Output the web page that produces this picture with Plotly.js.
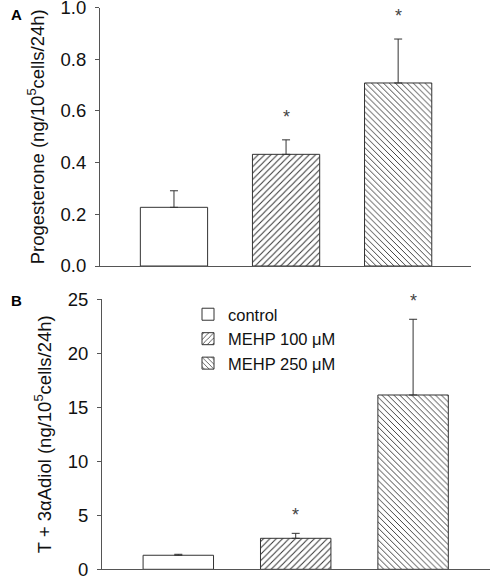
<!DOCTYPE html>
<html>
<head>
<meta charset="utf-8">
<script src="https://cdn.plot.ly/plotly-3.0.1.min.js"></script>
<style>html,body{margin:0;padding:0;background:#fff;}#chart{width:490px;height:576px;}</style>
</head>
<body>
<div id="chart"></div>
<script>
// ---- data ----
var groups = ["control", "MEHP 100 \u03bcM", "MEHP 250 \u03bcM"];
var progesteroneMean = [0.227, 0.432, 0.708];
var progesteroneSem  = [0.064, 0.056, 0.170];
var androgenMean = [1.30, 2.87, 16.14];
var androgenSem  = [0.09, 0.46, 7.01];
var significant = [false, true, true];
var progTicks = [0, 0.2, 0.4, 0.6, 0.8, 1.0];
var progTickText = ["0.0", "0.2", "0.4", "0.6", "0.8", "1.0"];
var andTicks = [0, 5, 10, 15, 20, 25];

// ---- styles ----
var ink = "#333";
var patterns = [
  {shape: "", fgcolor: ink, bgcolor: "#fff"},
  {shape: "/", fgcolor: ink, bgcolor: "#fff", size: 4.5, solidity: 0.22},
  {shape: "\\", fgcolor: ink, bgcolor: "#fff", size: 4.2, solidity: 0.22}
];
var font = "Liberation Sans, Arial, sans-serif";

var traces = [];
groups.forEach(function (g, i) {
  traces.push({
    type: "bar", x: [i], y: [progesteroneMean[i]], name: g, showlegend: false,
    xaxis: "x", yaxis: "y", width: 0.6,
    marker: {color: "#fff", line: {color: ink, width: 1}, pattern: patterns[i]},
    error_y: {type: "data", array: [progesteroneSem[i]], arrayminus: [0], symmetric: false,
              color: ink, thickness: 1, width: 4}
  });
  traces.push({
    type: "bar", x: [i], y: [androgenMean[i]], name: g, showlegend: true,
    xaxis: "x2", yaxis: "y2", width: 0.6,
    marker: {color: "#fff", line: {color: ink, width: 1}, pattern: patterns[i]},
    error_y: {type: "data", array: [androgenSem[i]], arrayminus: [0], symmetric: false,
              color: ink, thickness: 1, width: 4}
  });
});

var annotations = [];
groups.forEach(function (g, i) {
  if (!significant[i]) return;
  annotations.push({xref: "x", yref: "y", x: i, y: progesteroneMean[i] + progesteroneSem[i],
    text: "*", showarrow: false, yanchor: "middle", yshift: 23, font: {size: 18, color: "#444", family: font}});
  annotations.push({xref: "x2", yref: "y2", x: i, y: androgenMean[i] + androgenSem[i],
    text: "*", showarrow: false, yanchor: "middle", yshift: 18, font: {size: 18, color: "#444", family: font}});
});
annotations.push({xref: "paper", yref: "paper", x: 9/490, y: 1 - 14/576, text: "<b>A</b>",
  showarrow: false, xanchor: "left", yanchor: "middle", font: {size: 15, color: "#000", family: font}});
annotations.push({xref: "paper", yref: "paper", x: 9/490, y: 1 - 300/576, text: "<b>B</b>",
  showarrow: false, xanchor: "left", yanchor: "middle", font: {size: 15, color: "#000", family: font}});

var axisLine = {showline: true, linecolor: "#555", linewidth: 1, zeroline: false, showgrid: false};

var layout = {
  width: 490, height: 576,
  margin: {l: 0, r: 0, t: 0, b: 0},
  paper_bgcolor: "#fff", plot_bgcolor: "#fff",
  font: {family: font, color: "#111", size: 18},
  barmode: "overlay",
  showlegend: true,
  legend: {x: 188/490, y: 1 - 297/576, xanchor: "left", yanchor: "top",
           font: {size: 16.5, color: "#111"}, bgcolor: "rgba(0,0,0,0)", tracegroupgap: 0,
           itemwidth: 30},
  xaxis: Object.assign({}, axisLine, {domain: [100/490, 471/490], range: [-0.66, 2.65],
          showticklabels: false, ticks: "", anchor: "y", fixedrange: true}),
  yaxis: Object.assign({}, axisLine, {domain: [1 - 266/576, 1 - 7.5/576], range: [0, 1.0],
          tickvals: progTicks, ticktext: progTickText, ticks: "outside", ticklen: 4, tickcolor: "#555",
          anchor: "x", ticklabelstandoff: 5, ticklabeloverflow: "allow", tickfont: {size: 18.5, color: "#111"},
          title: {text: "Progesterone (ng/10<sup>5</sup>cells/24h)", font: {size: 18.5, color: "#111"}, standoff: 11}}),
  xaxis2: Object.assign({}, axisLine, {domain: [102/490, 1], range: [-0.65, 2.655],
          showticklabels: false, ticks: "", anchor: "y2", fixedrange: true}),
  yaxis2: Object.assign({}, axisLine, {domain: [1 - 569.3/576, 1 - 299.3/576], range: [0, 25],
          tickvals: andTicks, ticks: "outside", ticklen: 4, tickcolor: "#555",
          anchor: "x2", ticklabelstandoff: 5, ticklabeloverflow: "allow", tickfont: {size: 18.5, color: "#111"},
          title: {text: "T + 3\u03b1Adiol (ng/10<sup>5</sup>cells/24h)", font: {size: 18.5, color: "#111"}, standoff: 11}}),
  annotations: annotations
};

Plotly.newPlot("chart", traces, layout, {displayModeBar: false, staticPlot: true});
</script>
</body>
</html>
